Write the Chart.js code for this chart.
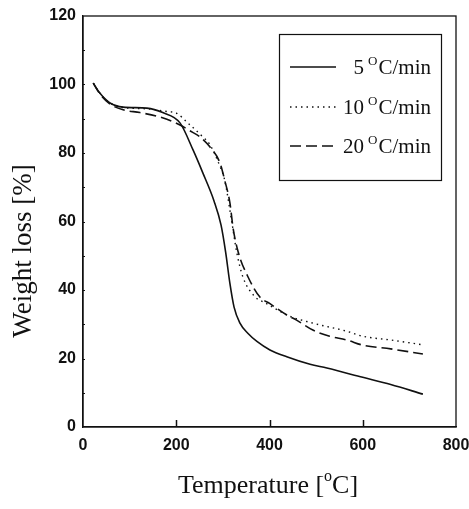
<!DOCTYPE html>
<html>
<head>
<meta charset="utf-8">
<script src="https://cdn.jsdelivr.net/npm/chart.js@4.4.1/dist/chart.umd.min.js"></script>
<style>
  html, body { margin: 0; padding: 0; background: #fff; }
  #wrap { width: 469px; height: 509px; }
</style>
</head>
<body>
<div id="wrap"><canvas id="tga"></canvas></div>
<script>
// TGA curves: weight loss [%] vs temperature [°C] at three heating rates

const rateLabels = ['5', '10', '20'];

const temps5  = [22, 36, 58, 86, 137, 171, 208, 236, 257, 281, 296, 306, 315, 324, 336, 354, 373, 401, 437, 487, 523, 600, 660, 729];
const weight5 = [100.4, 97.5, 94.6, 93.4, 93.1, 91.8, 88.8, 80.9, 74.2, 66, 59, 51, 42, 35, 30.5, 27.3, 25, 22.5, 20.5, 18.3, 17.2, 14.5, 12.4, 9.6];

const temps10  = [22, 36, 58, 86, 137, 180, 201, 223, 257, 272, 294, 304, 319, 330, 343, 369, 390, 444, 480, 508, 565, 600, 660, 729];
const weight10 = [100.4, 97.5, 94.6, 93.3, 92.9, 92.1, 91.6, 89, 84.7, 82.5, 76, 72, 60, 50.8, 43.8, 38, 36.3, 32.3, 30.8, 29.8, 28, 26.5, 25.4, 24];

const temps20  = [22, 36, 58, 86, 122, 165, 208, 229, 251, 272, 294, 304, 315, 322, 333, 354, 379, 401, 437, 458, 493, 529, 566, 600, 660, 729];
const weight20 = [100.4, 97.3, 94.3, 92.6, 91.8, 90.5, 88.2, 86.5, 84.7, 81.8, 77, 72, 65.5, 58, 51, 43.8, 38, 36, 32.7, 31.2, 28.3, 26.5, 25.4, 23.9, 22.8, 21.3];

const xTicks = [0, 200, 400, 600, 800];
const yTicks = [0, 20, 40, 60, 80, 100, 120];

function pts(xs, ys) {
  return xs.map((x, i) => ({ x: x, y: ys[i] }));
}

const TICK_FONT = { family: 'Liberation Sans, Arial, sans-serif', size: 16, weight: 'bold' };
const SERIF = 'Liberation Serif, "Times New Roman", serif';

// frame, inward ticks, axis titles and the legend box
const decorPlugin = {
  id: 'decor',
  afterDraw(chart) {
    const { ctx, chartArea: a, scales } = chart;
    ctx.save();
    ctx.strokeStyle = '#111';
    ctx.lineWidth = 1.3;
    ctx.setLineDash([]);
    ctx.strokeRect(a.left, a.top, a.right - a.left, a.bottom - a.top);

    // x major ticks pointing inward
    ctx.lineWidth = 1.5;
    [200, 400, 600].forEach(v => {
      const px = Math.round(scales.x.getPixelForValue(v)) + 0.5;
      ctx.beginPath();
      ctx.moveTo(px, a.bottom);
      ctx.lineTo(px, a.bottom - 7);
      ctx.stroke();
    });
    // small y ticks
    ctx.lineWidth = 1;
    for (let v = 10; v < 120; v += 10) {
      const py = Math.round(scales.y.getPixelForValue(v)) + 0.5;
      ctx.beginPath();
      ctx.moveTo(a.left, py);
      ctx.lineTo(a.left + 2, py);
      ctx.stroke();
    }

    // axis titles
    ctx.fillStyle = '#111';
    ctx.font = '26px ' + SERIF;
    ctx.textBaseline = 'middle';
    ctx.textAlign = 'left';
    const xt = 'Temperature [';
    const xtW = ctx.measureText(xt).width;
    const cW = ctx.measureText('C]').width;
    ctx.font = '16px ' + SERIF;
    const oW = ctx.measureText('o').width;
    const total = xtW + oW + cW;
    let sx = 268 - total / 2;
    ctx.font = '26px ' + SERIF;
    ctx.fillText(xt, sx, 486);
    ctx.font = '16px ' + SERIF;
    ctx.fillText('o', sx + xtW, 477);
    ctx.font = '26px ' + SERIF;
    ctx.fillText('C]', sx + xtW + oW, 486);

    ctx.save();
    ctx.translate(24, 251);
    ctx.rotate(-Math.PI / 2);
    ctx.textAlign = 'center';
    ctx.font = '27px ' + SERIF;
    ctx.fillText('Weight loss [%]', 0, 0);
    ctx.restore();

    // legend
    const bx = 279, by = 34, bw = 162, bh = 146;
    ctx.lineWidth = 1.2;
    ctx.strokeStyle = '#111';
    ctx.strokeRect(bx + 0.5, by + 0.5, bw, bh);
    const rows = [67, 107, 146];
    chart.data.datasets.forEach((ds, i) => {
      const y = rows[i];
      ctx.beginPath();
      ctx.setLineDash(ds.borderDash || []);
      ctx.lineWidth = ds.borderWidth;
      ctx.moveTo(290, y);
      ctx.lineTo(336, y);
      ctx.stroke();
      ctx.setLineDash([]);
      ctx.textBaseline = 'alphabetic';
      ctx.textAlign = 'right';
      ctx.font = '21px ' + SERIF;
      ctx.fillText('C/min', 431, y + 7);
      const cw = ctx.measureText('C/min').width;
      ctx.font = '13px ' + SERIF;
      ctx.fillText('O', 431 - cw - 1, y - 2);
      const ow = ctx.measureText('O').width;
      ctx.font = '21px ' + SERIF;
      ctx.fillText(rateLabels[i], 431 - cw - ow - 5, y + 7);
    });
    ctx.restore();
  }
};

new Chart(document.getElementById('tga'), {
  type: 'scatter',
  data: {
    datasets: [
      { label: rateLabels[0] + ' °C/min', data: pts(temps5, weight5), borderColor: '#111', borderWidth: 1.6, borderDash: [] },
      { label: rateLabels[1] + ' °C/min', data: pts(temps10, weight10), borderColor: '#111', borderWidth: 1.4, borderDash: [1.5, 4] },
      { label: rateLabels[2] + ' °C/min', data: pts(temps20, weight20), borderColor: '#111', borderWidth: 1.6, borderDash: [11, 5] }
    ].map(d => Object.assign(d, { showLine: true, pointRadius: 0, fill: false, cubicInterpolationMode: 'monotone' }))
  },
  options: {
    responsive: true,
    maintainAspectRatio: false,
    animation: false,
    layout: { padding: { left: 0, right: 13, top: 16, bottom: 0 } },
    plugins: { legend: { display: false }, tooltip: { enabled: false } },
    scales: {
      x: {
        type: 'linear', min: 0, max: 800,
        afterBuildTicks: s => { s.ticks = xTicks.map(v => ({ value: v })); },
        afterFit: s => { s.height = 82; s.paddingLeft = 0; s.paddingRight = 0; },
        grid: { display: false, drawTicks: false },
        border: { display: true, color: '#111', width: 1.3 },
        ticks: { color: '#111', font: TICK_FONT, padding: 9, maxRotation: 0 }
      },
      y: {
        type: 'linear', min: 0, max: 120,
        afterBuildTicks: s => { s.ticks = yTicks.map(v => ({ value: v })); },
        afterFit: s => { s.width = 83; s.paddingTop = 0; s.paddingBottom = 0; },
        grid: { display: false, drawTicks: false },
        border: { display: true, color: '#111', width: 1.3 },
        ticks: { color: '#111', font: TICK_FONT, padding: 7 }
      }
    }
  },
  plugins: [decorPlugin]
});
</script>
</body>
</html>
